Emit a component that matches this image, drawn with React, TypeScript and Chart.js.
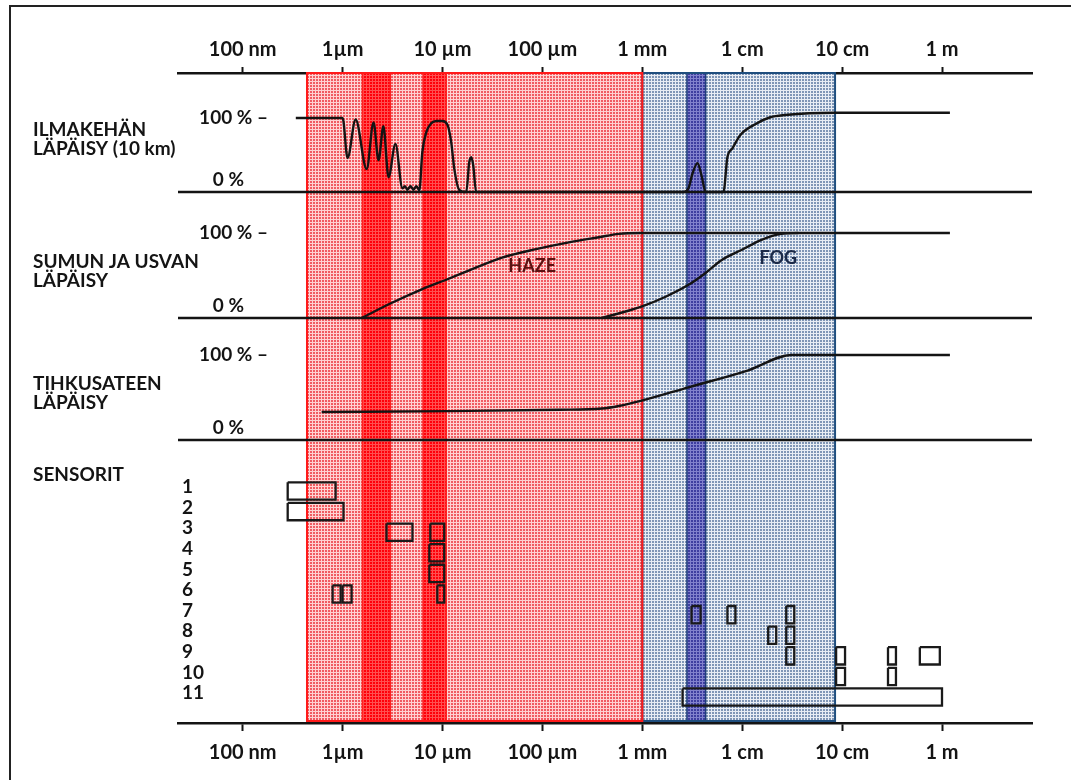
import React, { useEffect, useRef } from 'react';
import { Chart, registerables } from 'chart.js';

Chart.register(...registerables);

// ---------- axis ----------
const X_MIN = 2.25e-8;
const X_MAX = 7.96;
const TICK_VALUES = [1e-7, 1e-6, 1e-5, 1e-4, 1e-3, 1e-2, 1e-1, 1];
const TICK_LABELS = ['100 nm', '1µm', '10 µm', '100 µm', '1 mm', '1 cm', '10 cm', '1 m'];

// ---------- panel 1: atmospheric transmission (10 km) ----------
const ATM_WL = [
  3.4e-7, 1.0e-6, 1.12e-6, 1.35e-6, 1.74e-6, 2.04e-6, 2.29e-6, 2.56e-6, 2.88e-6, 3.38e-6,
  3.97e-6, 4.21e-6, 4.46e-6, 4.78e-6, 5.12e-6, 5.48e-6, 5.86e-6, 6.28e-6, 6.89e-6, 7.73e-6,
  8.67e-6, 9.95e-6, 1.12e-5, 1.22e-5, 1.31e-5, 1.47e-5, 1.73e-5, 1.85e-5, 1.94e-5, 2.03e-5,
  2.17e-5, 2.59e-3, 2.9e-3, 3.18e-3, 3.57e-3, 3.92e-3, 4.3e-3, 6.49e-3, 7.11e-3, 7.98e-3,
  9.59e-3, 1.32e-2, 1.91e-2, 2.7e-2, 8.51e-2, 1.2,
];
const ATM_T = [
  100, 100, 46, 98, 31, 94, 43, 89, 20, 65,
  5, 8, 3, 8, 3, 8, 2, 54, 81, 93,
  96, 96, 91, 68, 32, 3, 0, 40, 47, 36,
  0, 0, 5, 25, 39, 22, 0, 0, 47, 59,
  77, 91, 101, 104, 107, 107,
];

// ---------- panel 2: haze & fog ----------
const HAZE_WL = [1.55e-6, 3.08e-6, 6.28e-6, 1.09e-5, 1.85e-5, 3.95e-5, 8.63e-5, 1.84e-4, 3.67e-4, 5.81e-4, 9.6e-4, 1.2];
const HAZE_T = [0, 17.6, 34, 45, 56, 71, 81, 89, 95, 99, 100, 100];
const FOG_WL = [3.94e-4, 9.64e-4, 1.71e-3, 2.9e-3, 4.3e-3, 6.19e-3, 9.82e-3, 1.56e-2, 2.46e-2, 3.64e-2];
const FOG_T = [0, 13, 25, 39, 53, 68, 80, 92, 99, 100];

// ---------- panel 3: drizzle ----------
const DRIZZLE_WL = [6.17e-7, 1.17e-5, 1.47e-4, 3.94e-4, 5.81e-4, 9.64e-4, 2.9e-3, 1.15e-2, 3.1e-2, 1.2];
const DRIZZLE_T = [33, 34, 35.5, 37, 40, 46, 62, 82, 100, 100];

// ---------- panel 4: sensors ----------
const SENSOR_LABELS = ['1', '2', '3', '4', '5', '6', '7', '8', '9', '10', '11'];
const SENSOR_ROW = [1, 2, 3, 3, 4, 5, 6, 6, 6, 7, 7, 7, 8, 8, 9, 9, 9, 9, 10, 10, 11];
const SENSOR_FROM = [
  2.82e-7, 2.82e-7, 2.75e-6, 7.55e-6, 7.38e-6, 7.38e-6, 7.94e-7, 1.0e-6, 8.87e-6, 3.11e-3,
  7.11e-3, 2.76e-2, 1.82e-2, 2.76e-2, 2.76e-2, 8.71e-2, 0.288, 0.6, 8.71e-2, 0.288, 2.53e-3,
];
const SENSOR_TO = [
  8.51e-7, 1.02e-6, 5.0e-6, 1.04e-5, 1.04e-5, 1.04e-5, 9.55e-7, 1.23e-6, 1.04e-5, 3.83e-3,
  8.55e-3, 3.32e-2, 2.19e-2, 3.32e-2, 3.32e-2, 0.107, 0.346, 0.951, 0.107, 0.346, 1.0,
];

// ---------- spectral bands ----------
const WIDE_BAND_FROM = [4.4e-7, 1e-3];
const WIDE_BAND_TO = [1e-3, 8.5e-2];
const NARROW_BAND_FROM = [1.58e-6, 6.4e-6, 2.8e-3];
const NARROW_BAND_TO = [3.0e-6, 1.09e-5, 4.3e-3];

// ---------- text ----------
const PANEL_TITLES = [
  ['ILMAKEHÄN', 'LÄPÄISY (10 km)'],
  ['SUMUN JA USVAN', 'LÄPÄISY'],
  ['TIHKUSATEEN', 'LÄPÄISY'],
];
const SENSOR_TITLE = 'SENSORIT';
const HAZE_LABEL = { text: 'HAZE', x: 7.9e-5, y: 61 };
const FOG_LABEL = { text: 'FOG', x: 2.3e-2, y: 70.6 };

// ---------- styles / layout constants ----------
const FONT_FAMILY = 'Lato, "DejaVu Sans", sans-serif';
const INK = '#141414';
const PANEL_AXES = ['y', 'y2', 'y3'];
const TITLE_PCT = [83.8, 65.9, 65.9];
const ROW_HALF = 0.42;

function makePattern(base: string, line: string, size: number) {
  const c = document.createElement('canvas');
  c.width = size;
  c.height = size;
  const g = c.getContext('2d')!;
  g.fillStyle = base;
  g.fillRect(0, 0, size, size);
  g.fillStyle = line;
  g.fillRect(0, 0, size, 1);
  g.fillRect(0, 0, 1, size);
  return g.createPattern(c, 'repeat')!;
}

const curve = (xs: number[], ys: number[], yAxisID: string) => ({
  data: xs.map((x, i) => ({ x, y: ys[i] })),
  yAxisID,
  xAxisID: 'x',
  showLine: true,
  pointRadius: 0,
  borderColor: INK,
  borderWidth: 2.4,
  cubicInterpolationMode: 'monotone' as const,
  fill: false,
  clip: false,
});

export default function App() {
  const ref = useRef<HTMLCanvasElement>(null);

  useEffect(() => {
    const canvas = ref.current!;
    const pat = {
      red: makePattern('rgb(240,92,98)', 'rgb(255,210,210)', 3),
      blue: makePattern('rgb(128,150,182)', 'rgb(232,237,244)', 3),
      darkRed: makePattern('rgb(255,0,10)', 'rgb(255,80,80)', 3),
      darkBlue: makePattern('rgb(62,62,160)', 'rgb(130,130,205)', 3),
    };
    const wideFill = [pat.red, pat.blue];
    const wideStroke = ['#ff1a1a', '#1f4e7e'];
    const narrowFill = [pat.darkRed, pat.darkRed, pat.darkBlue];
    const narrowStroke = ['#ff2020', '#ff2020', '#1f3d7a'];

    const regionPlugin = {
      id: 'regions',
      beforeDatasetsDraw(chart: any) {
        const { ctx, chartArea } = chart;
        const xs = chart.scales.x;
        const top = chartArea.top;
        const bot = chartArea.bottom - 2;
        ctx.save();
        WIDE_BAND_FROM.forEach((lo, i) => {
          const x1 = xs.getPixelForValue(lo);
          const x2 = xs.getPixelForValue(WIDE_BAND_TO[i]);
          ctx.fillStyle = wideFill[i];
          ctx.fillRect(x1, top, x2 - x1, bot - top);
        });
        NARROW_BAND_FROM.forEach((lo, i) => {
          const x1 = xs.getPixelForValue(lo);
          const x2 = xs.getPixelForValue(NARROW_BAND_TO[i]);
          ctx.fillStyle = narrowFill[i];
          ctx.fillRect(x1, top, x2 - x1, bot - top);
          ctx.strokeStyle = narrowStroke[i];
          ctx.lineWidth = 1.5;
          ctx.strokeRect(x1, top, x2 - x1, bot - top);
        });
        for (let i = WIDE_BAND_FROM.length - 1; i >= 0; i--) {
          const x1 = xs.getPixelForValue(WIDE_BAND_FROM[i]);
          const x2 = xs.getPixelForValue(WIDE_BAND_TO[i]);
          ctx.strokeStyle = wideStroke[i];
          ctx.lineWidth = 2;
          ctx.strokeRect(x1, top, x2 - x1, bot - top);
        }
        ctx.restore();
      },
    };

    const textPlugin = {
      id: 'texts',
      afterDatasetsDraw(chart: any) {
        const { ctx } = chart;
        const s = chart.scales;
        ctx.save();
        ctx.textBaseline = 'middle';
        ctx.fillStyle = INK;
        ctx.font = `bold 19px ${FONT_FAMILY}`;
        PANEL_AXES.forEach((id, i) => {
          const sc = s[id];
          ctx.textAlign = 'right';
          ctx.fillText('100 % –', 268, sc.getPixelForValue(100));
          ctx.fillText('0 %', 244, sc.getPixelForValue(0) - 12.5);
          ctx.textAlign = 'left';
          const ty = sc.getPixelForValue(TITLE_PCT[i]);
          PANEL_TITLES[i].forEach((t, k) => ctx.fillText(t, 33, ty + k * 19));
        });
        const y4 = s.y4;
        ctx.textAlign = 'left';
        ctx.fillText(SENSOR_TITLE, 33, y4.getPixelForValue(0.22));
        SENSOR_LABELS.forEach((t, i) => ctx.fillText(t, 182, y4.getPixelForValue(i + 1) - 4));
        ctx.textAlign = 'center';
        ctx.font = `bold 18px ${FONT_FAMILY}`;
        ctx.fillStyle = '#5c1212';
        ctx.fillText(HAZE_LABEL.text, s.x.getPixelForValue(HAZE_LABEL.x), s.y2.getPixelForValue(HAZE_LABEL.y));
        ctx.fillStyle = '#1b2a48';
        ctx.fillText(FOG_LABEL.text, s.x.getPixelForValue(FOG_LABEL.x), s.y2.getPixelForValue(FOG_LABEL.y));
        ctx.restore();
      },
    };

    const baseline = (yAxisID: string) => ({
      data: [{ x: X_MIN, y: 0 }, { x: X_MAX, y: 0 }],
      yAxisID,
      xAxisID: 'x',
      showLine: true,
      pointRadius: 0,
      borderColor: INK,
      borderWidth: 2.4,
      fill: false,
      clip: false,
    });

    const sensorRects = SENSOR_ROW.map((row, i) => {
      const lo = SENSOR_FROM[i];
      const hi = SENSOR_TO[i];
      return {
        data: [
          { x: lo, y: row - ROW_HALF },
          { x: hi, y: row - ROW_HALF },
          { x: hi, y: row + ROW_HALF },
          { x: lo, y: row + ROW_HALF },
          { x: lo, y: row - ROW_HALF },
        ],
        yAxisID: 'y4',
        xAxisID: 'x',
        showLine: true,
        pointRadius: 0,
        borderColor: '#1a1a1a',
        borderWidth: 2.3,
        tension: 0,
        fill: false,
        clip: false,
      };
    });

    const tickFont = { family: FONT_FAMILY, size: 20, weight: 'bold' as const };
    const xAxis = (position: 'top' | 'bottom', height: number, tickLength: number, padding: number) => ({
      type: 'logarithmic' as const,
      position,
      min: X_MIN,
      max: X_MAX,
      afterBuildTicks: (sc: any) => {
        sc.ticks = TICK_VALUES.map((v) => ({ value: v, major: true }));
      },
      afterFit: (sc: any) => {
        sc.height = height;
      },
      ticks: {
        callback: (_v: any, i: number) => TICK_LABELS[i],
        autoSkip: false,
        maxRotation: 0,
        color: INK,
        font: tickFont,
        padding,
      },
      grid: {
        display: true,
        drawOnChartArea: false,
        drawTicks: true,
        tickLength,
        tickWidth: 2,
        tickColor: INK,
      },
      border: { display: true, color: INK, width: 2.4 },
    });

    const chart = new Chart(canvas, {
      type: 'scatter',
      data: {
        datasets: [
          curve(ATM_WL, ATM_T, 'y'),
          curve(HAZE_WL, HAZE_T, 'y2'),
          curve(FOG_WL, FOG_T, 'y2'),
          curve(DRIZZLE_WL, DRIZZLE_T, 'y3'),
          baseline('y'),
          baseline('y2'),
          baseline('y3'),
          ...sensorRects,
        ] as any,
      },
      options: {
        responsive: false,
        animation: false,
        devicePixelRatio: 1,
        events: [],
        layout: { padding: { left: 178, right: 39, top: 40, bottom: 17 } },
        plugins: { legend: { display: false }, tooltip: { enabled: false } },
        scales: {
          x: xAxis('bottom', 40, 8, 10),
          x2: xAxis('top', 33, 6, 5),
          y: { type: 'linear', display: false, stack: 'panels', stackWeight: 119, weight: 4, min: 0, max: 160.8 },
          y2: { type: 'linear', display: false, stack: 'panels', stackWeight: 126, weight: 3, min: 0, max: 148.2 },
          y3: { type: 'linear', display: false, stack: 'panels', stackWeight: 122, weight: 2, min: 0, max: 143.5 },
          y4: { type: 'linear', display: false, stack: 'panels', stackWeight: 283, weight: 1, min: -1.476, max: 12.26, reverse: true },
        } as any,
      },
      plugins: [regionPlugin, textPlugin],
    });
    return () => chart.destroy();
  }, []);

  return (
    <div style={{ position: 'absolute', left: 0, top: 0, width: 1071, height: 780, background: '#fff', overflow: 'hidden' }}>
      <div
        style={{
          position: 'absolute',
          left: 9,
          top: 5,
          width: 1100,
          height: 800,
          borderTop: '2px solid #222',
          borderLeft: '2px solid #222',
        }}
      />
      <canvas ref={ref} width={1071} height={780} style={{ position: 'absolute', left: 0, top: 0, width: 1071, height: 780 }} />
    </div>
  );
}
